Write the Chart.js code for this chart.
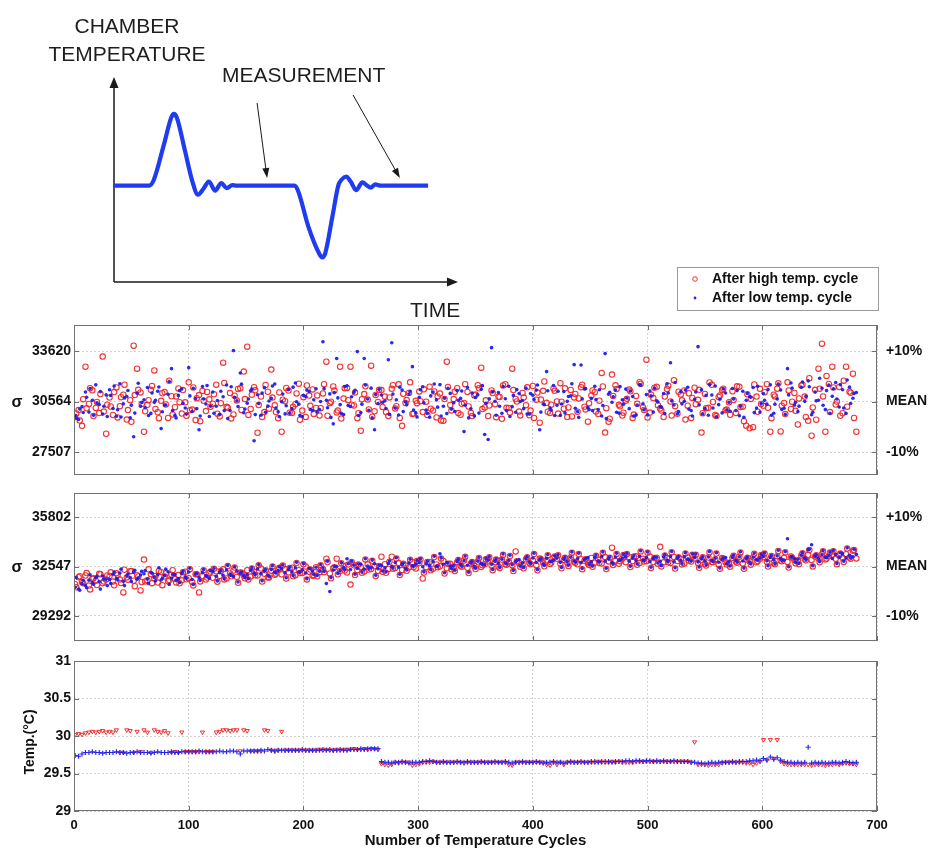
<!DOCTYPE html>
<html><head><meta charset="utf-8">
<script src="https://cdn.jsdelivr.net/npm/chart.js@4.4.1/dist/chart.umd.min.js"></script>
<style>
html,body{margin:0;padding:0;background:#fff;}
#wrap{position:relative;width:940px;height:856px;overflow:hidden;background:#fff;}
#wrap canvas{position:absolute;left:0;}
</style></head><body>
<div id="wrap">
<canvas id="schem" width="940" height="320" style="top:0px"></canvas>
<canvas id="p1" width="940" height="225" style="top:255px"></canvas>
<canvas id="p2" width="940" height="166" style="top:480px"></canvas>
<canvas id="p3" width="940" height="210" style="top:646px"></canvas>
</div>
<script>
// ---------------- DATA ----------------
// cycle numbers of sample set A and interleaved sample set B
const cycles = [1,4,7,10,13,16,19,22,25,28,31,34,37,40,43,46,49,52,55,58,61,64,67,70,73,76,79,82,85,88,91,94,97,100,103,106,109,112,115,118,121,124,127,130,133,136,139,142,145,148,151,154,157,160,163,166,169,172,175,178,181,184,187,190,193,196,199,202,205,208,211,214,217,220,223,226,229,232,235,238,241,244,247,250,253,256,259,262,265,268,271,274,277,280,283,286,289,292,295,298,301,304,307,310,313,316,319,322,325,328,331,334,337,340,343,346,349,352,355,358,361,364,367,370,373,376,379,382,385,388,391,394,397,400,403,406,409,412,415,418,421,424,427,430,433,436,439,442,445,448,451,454,457,460,463,466,469,472,475,478,481,484,487,490,493,496,499,502,505,508,511,514,517,520,523,526,529,532,535,538,541,544,547,550,553,556,559,562,565,568,571,574,577,580,583,586,589,592,595,598,601,604,607,610,613,616,619,622,625,628,631,634,637,640,643,646,649,652,655,658,661,664,667,670,673,676,679,682];
const cyclesB = [2,5,8,11,14,17,20,23,26,29,32,35,38,41,44,47,50,53,56,59,62,65,68,71,74,77,80,83,86,89,92,95,98,101,104,107,110,113,116,119,122,125,128,131,134,137,140,143,146,149,152,155,158,161,164,167,170,173,176,179,182,185,188,191,194,197,200,203,206,209,212,215,218,221,224,227,230,233,236,239,242,245,248,251,254,257,260,263,266,269,272,275,278,281,284,287,290,293,296,299,302,305,308,311,314,317,320,323,326,329,332,335,338,341,344,347,350,353,356,359,362,365,368,371,374,377,380,383,386,389,392,395,398,401,404,407,410,413,416,419,422,425,428,431,434,437,440,443,446,449,452,455,458,461,464,467,470,473,476,479,482,485,488,491,494,497,500,503,506,509,512,515,518,521,524,527,530,533,536,539,542,545,548,551,554,557,560,563,566,569,572,575,578,581,584,587,590,593,596,599,602,605,608,611,614,617,620,623,626,629,632,635,638,641,644,647,650,653,656,659,662,665,668,671,674,677,680];

const seriesNames = ['After high temp. cycle', 'After low temp. cycle'];

// Panel 1: sigma (first quantity)
const q1High = [
29640,30050,29100,32680,30420,31250,30180,29870,33290,28620,
30810,29760,31420,30290,30980,29480,30650,33950,32560,31120,
28740,30370,31280,32450,29920,30610,31140,29580,30890,30230,
31360,29840,30520,31730,30080,29450,30960,31210,29990,30700,
30440,31590,29670,32920,30250,31080,29790,30630,31370,32380,
33890,30120,31440,28680,30870,29930,31160,32500,30340,29560,
28740,30590,31230,29870,30410,31650,30020,29640,30930,31300,
30180,29720,31060,32980,30470,31480,29910,32680,30750,31390,
32680,30330,29560,28800,31020,30690,32740,29980,30540,31260,
30870,29690,31340,30150,31610,29100,30480,31090,29820,30610,
31180,29930,30560,31470,30020,29610,31050,29400,32980,30360,
30720,31380,29770,30480,31150,29880,30940,31560,32620,30210,
29690,31240,30410,30860,29520,31620,30180,32560,30730,29960,
31090,30350,29740,31510,30680,29290,31220,30490,29870,31360,
30570,31680,30140,29630,31270,30820,29950,31440,30260,29350,
30940,31130,29810,32300,28690,29350,32200,31550,30370,29720,
30620,31290,29580,30910,31740,30230,33100,29900,30780,31460,
30150,29640,31320,30570,31860,29830,30990,31240,30320,29580,
31410,30670,28690,31030,30190,31580,29760,30850,31270,30040,
30530,31190,29880,31470,30260,29110,28950,29020,30870,31340,
30310,31620,28740,30980,31350,28760,30480,31730,30120,31090,
29180,31540,30870,29400,28500,31280,32560,34070,28740,31630,
32680,30390,31450,29860,32680,31170,32250,28740];
const q1HighB = [
29850,29420,30710,30160,31380,29690,30540,31020,29960,30380,
30270,31140,29610,30830,31590,30050,29340,30960,31280,30420,
29980,30650,31510,30120,29560,31070,30390,31830,29790,30880,
30530,31260,29710,30040,31420,30770,29380,30610,31150,30260,
31010,29830,30470,31690,30190,29550,30920,31330,30060,30720,
29760,30980,31250,30360,29640,31570,30140,30810,29930,31120,
30680,31390,29890,30250,31060,29470,30830,31540,30310,29820,
30940,30170,31620,29710,30560,31230,30020,29540,31380,30650,
30380,31120,29860,30710,31490,30090,29650,30970,31280,30240,
29930,30820,31560,30290,29580,31040,30660,31730,29840,30470,
30590,31310,29760,30140,31180,30880,29420,30720,31450,30030,
31160,29870,30430,31620,30270,29690,30990,31370,30110,30640,
30330,31080,29620,30850,31540,30190,29900,31260,30570,29730,
30810,31430,30020,29580,31110,30690,31780,29950,30380,31220,
29840,30560,31370,30210,29670,31030,30760,31590,30090,30470,
31240,29960,30620,31480,30170,29530,30910,31320,30280,29890,
30740,31190,29780,30430,31650,30060,29610,30980,31410,30350,
30020,30870,31530,29720,30290,31160,30640,29480,31070,30790,
30410,31280,29860,30170,31720,30540,29690,30930,31350,30080,
29770,30660,31490,30240,29380,31010,30730,31600,29950,30420,
31130,30190,29560,30880,31670,30320,29810,31240,30560,30010,
30760,31590,29640,31980,30210,29470,31350,30880,32120,29930,
31420,30570,29710,31830,30260,31100,29580];
const q1Low = [
29720,29480,30260,31150,29930,30640,31580,30390,29810,30970,
31280,30150,29680,31640,30430,30870,29590,28440,31070,30290,
30680,31420,29850,30520,31190,28930,30360,31010,32560,29740,
30940,31330,30180,32620,29970,30750,28860,31480,30420,29660,
31150,30280,29790,30860,31570,30030,33650,30610,32300,29890,
30470,31220,28200,30980,29740,31410,30290,30760,31630,29950,
30560,29820,31290,30140,31690,30410,29660,30870,31180,30020,
31340,30090,34190,30650,31030,29220,33170,30380,29780,31520,
30270,31110,33590,29900,33170,30720,31380,28860,30450,30960,
30610,33100,34130,30180,29750,31270,30540,31020,32680,29880,
30830,31460,30050,29620,31150,30670,31590,30280,29840,31060,
30490,31230,30760,28750,31420,30130,29700,30980,31310,28570,
28270,33830,30590,31120,29860,30740,31490,30260,29920,31050,
30630,31380,29810,30950,31260,28860,30420,32380,30170,31540,
30340,29730,31170,30580,30910,32800,29960,32780,31330,30210,
30760,31490,30080,29690,33470,31010,30530,31260,29870,30680,
31320,30140,30870,29760,31580,30430,30990,31210,29930,30610,
30270,31050,31640,32920,30360,29820,31170,30590,31430,30020,
30710,33890,31280,30150,29740,30960,31510,30380,29880,31090,
30530,31360,30020,29710,31190,30640,30870,31420,30180,29930,
31050,30410,31580,29860,30730,31270,30160,32560,31690,30340,
29960,31430,30580,31820,29770,31140,30650,31370,30080,31560,
30890,31720,30240,31280,29850,31440,30770,31120];
const q1LowB = [
29580,30120,29910,30830,31360,29740,30490,31170,30280,29660,
30940,31510,30070,29630,30780,31240,30350,29870,31680,30510,
30190,29720,31090,30640,31450,29950,30360,31780,30020,29580,
31230,30460,29810,30910,31370,30140,29690,30720,31540,30280,
29860,30630,31190,30020,29540,31460,30830,30270,31620,30110,
30720,31330,29780,30450,31080,29920,30600,31510,30180,29650,
31020,30310,29870,31440,30560,29730,30940,31260,30090,30680,
29940,30570,31350,30190,29610,31110,30790,29850,31480,30330,
30860,31250,29720,30410,31570,30040,29580,30990,31310,30520,
30150,29790,31020,30680,31440,29960,30370,31190,30060,29640,
31280,30490,29850,30910,31630,30230,29690,30770,31370,30110,
29970,30640,31210,30350,29580,31090,30820,29870,31530,30460,
30730,31160,29740,30280,31480,30020,29660,30940,31290,30570,
30140,29810,31050,30690,31570,29930,30380,31220,30050,29720,
31190,30420,29880,30870,31640,30160,29610,30730,31350,30090,
30020,30690,31280,30330,29540,31130,30860,29920,31470,30410,
30780,31210,29690,30350,31560,30070,29760,30920,31380,30540,
30230,29840,31090,30610,31720,29970,30430,31260,30110,29690,
31150,30370,29820,30940,31590,30180,29650,30710,31340,30060,
29980,30720,31230,30290,29610,31060,30830,29900,31490,30440,
30650,31290,29740,30410,31620,30090,29790,30970,31380,30520,
30290,31750,30880,31460,29920,30610,31980,30340,31230,29860,
31340,30720,31590,30180,31870,30450,31060];

// Panel 2: sigma (second quantity)
const q2High = [
31380,31850,31520,31960,31290,31740,31610,32080,31450,31700,
31920,31560,32110,31690,30840,31830,32240,31610,31980,30970,
33010,31640,32050,31770,31490,32180,31890,31580,32010,31720,
31990,31640,32210,31780,31530,32050,30840,31920,31690,32130,
31810,32240,31930,32370,31760,32090,32290,31870,32150,31960,
32310,31890,32200,31960,32420,32070,31820,32280,32010,32350,
32040,32390,32160,32480,31980,32310,32120,32550,32210,31950,
32510,32180,32390,33070,32090,32440,33070,32260,32580,32150,
31360,32630,32310,32520,32220,32700,32390,32580,32270,33200,
32710,32390,33200,32460,32780,32330,32620,32490,32840,32420,
32780,31760,32510,32860,32410,32690,32570,32920,32440,32730,
32530,32840,32610,32950,32470,32760,32590,32880,32520,32700,
32950,32620,32830,32560,33010,32710,32890,32640,33550,32780,
32690,33030,32780,32950,32640,33080,32810,32970,32720,33110,
33060,32740,32990,32820,33150,32870,32700,33040,32930,32760,
33120,32810,33010,32760,33180,32890,33800,32930,32740,33090,
32840,33170,32920,33230,32780,33060,32900,33210,32850,33140,
33860,32830,33110,32790,33190,32920,33040,32760,33150,32880,
33090,32780,32980,32720,33150,32860,33040,32690,33110,32830,
32800,33130,32890,33200,32750,33020,32910,33170,32840,33060,
33180,32870,33090,32790,33240,32950,33130,32860,33210,32980,
32960,33290,33050,33330,32990,33210,33080,33360,33020,33250,
33340,33060,33290,33110,33370,33150,33600,33090];
const q2HighB = [
31180,31910,31450,32120,31040,31780,31330,32040,31560,31960,
32170,31310,32010,31460,32340,31670,32250,31250,31900,31530,
31570,32370,31450,31920,32250,31320,32090,31660,32310,31500,
31440,32170,31710,32380,31300,32040,31570,32300,31820,32220,
32410,31550,32250,31700,32580,31910,32490,31480,32140,31770,
31700,32430,31970,32640,31560,32300,31830,32560,32080,32480,
32620,31760,32460,31910,32790,32120,32700,31700,32350,31980,
31910,32640,32180,32850,31770,32510,32040,32770,32290,32690,
32850,31990,32690,32140,33020,32350,32930,31930,32580,32210,
32140,32870,32410,33080,32000,32740,32270,33000,32520,32920,
33010,32150,32850,32300,33180,32510,33090,32090,32740,32370,
32260,32990,32530,33200,32120,32860,32390,33120,32640,33040,
33170,32310,33010,32460,33340,32670,33250,32250,32900,32530,
32440,33170,32710,33380,32300,33040,32570,33300,32820,33220,
33300,32440,33140,32590,33470,32800,33380,32380,33030,32660,
32530,33260,32800,33470,32390,33130,32660,33390,32910,33310,
33380,32520,33220,32670,33550,32880,33460,32460,33110,32740,
32560,33290,32830,33500,32420,33160,32690,33420,32940,33340,
33330,32470,33170,32620,33500,32830,33410,32410,33060,32690,
32540,33270,32810,33480,32400,33140,32670,33400,32920,33320,
33410,32550,33250,32700,33580,32910,33490,32490,33140,32770,
32700,33430,32970,33640,32560,33300,32830,33560,33080,33480,
33570,32710,33410,32860,33740,33070,33650];
const q2Low = [
31180,31060,31420,31290,31650,31480,31820,31560,31930,31710,
31690,32040,31760,32120,31580,31940,31820,32180,31710,31990,
32070,31730,32160,31840,32010,31660,31950,32210,31780,32030,
31750,32100,31870,32190,31690,32040,31820,32150,31960,31780,
32230,31910,32150,31980,32320,32050,31890,32260,32110,31960,
32020,32310,32140,32390,32080,32260,31990,32350,32180,32290,
32400,32130,32350,32210,32470,32190,32330,32120,32440,32260,
32510,32240,32460,31430,30900,32320,32550,32290,32480,33070,
32360,32640,32430,32700,32380,32590,32480,32730,32410,32620,
32470,32750,32560,32820,32510,32690,32440,32780,32600,32720,
32800,32540,32730,32610,32880,32570,33400,32700,32820,32590,
32610,32880,32690,32940,32640,32810,32570,32900,32760,32680,
32970,32700,32910,32760,33040,32790,32950,32680,32880,33010,
32780,33060,32850,33120,32820,33000,32740,33090,32880,32970,
33110,32830,33040,32880,33170,32920,33080,32810,33010,33140,
32870,33150,32940,33210,32900,33060,32830,33180,32980,33090,
33190,32910,33110,32960,33230,33000,33140,32880,33080,33170,
32900,33180,32980,33220,32870,33110,32950,33200,33040,32920,
33140,32860,33060,32910,33180,32950,33100,32840,33030,33150,
32870,33160,32960,33200,32920,33080,32850,33170,33000,33110,
33220,32940,33150,33010,33260,33080,32980,34390,33190,33050,
33030,33300,33110,33670,33990,33240,33090,33330,33160,33280,
33080,33350,33170,33390,33120,33300,33200,33360];
const q2LowB = [
31820,30980,31640,31150,32010,31380,31900,31060,31720,31290,
31430,32190,31700,32380,31290,32060,31560,32300,31810,32230,
32290,31430,32110,31600,32470,31780,32380,31370,32020,31650,
31500,32230,31770,32440,31360,32100,31630,32360,31880,32280,
32460,31600,32300,31750,32630,31960,32540,31530,32190,31820,
31750,32480,32020,32690,31610,32350,31880,32610,32130,32530,
32670,31810,32510,31960,32840,32170,32750,31750,32400,32030,
31960,32690,32230,32900,31820,32560,32090,32820,32340,32740,
32900,32040,32740,32190,33070,32400,32980,31980,32630,32260,
32190,32920,32460,33130,32050,32790,32320,33050,32570,32970,
33060,32200,32900,32350,33230,32560,33140,32140,32790,32420,
32310,33040,32580,33250,32170,32910,32440,33170,32690,33090,
33220,32360,33060,32510,33390,32720,33300,32300,32950,32580,
32490,33220,32760,33430,32350,33090,32620,33350,32870,33270,
33350,32490,33190,32640,33520,32850,33430,32430,33080,32710,
32580,33310,32850,33520,32440,33180,32710,33440,32960,33360,
33430,32570,33270,32720,33600,32930,33510,32510,33160,32790,
32610,33340,32880,33550,32470,33210,32740,33470,32990,33390,
33380,32520,33220,32670,33550,32880,33460,32460,33110,32740,
32590,33320,32860,33530,32450,33190,32720,33450,32970,33370,
33460,32600,33300,32750,33630,32960,33540,32540,33190,32820,
32750,33480,33020,33690,32610,33350,32880,33610,33130,33530,
33620,32760,33460,32910,33790,33120,33700];

// Panel 3: temperature (°C)
const tHigh = [
30.02,30.03,30.02,30.04,30.05,30.06,30.05,30.06,30.07,30.05,
30.06,30.05,30.08,29.78,29.78,30.08,30.07,29.78,30.06,29.79,
30.08,30.05,29.78,30.08,30.06,30.05,30.07,30.04,29.78,29.79,
29.78,30.05,29.79,29.79,29.79,29.79,29.79,30.05,29.79,29.79,
29.79,30.05,30.06,30.08,30.08,30.07,30.08,30.08,29.80,30.08,
30.07,29.80,29.80,29.80,29.80,30.08,30.07,29.81,29.80,29.81,
30.06,29.81,29.81,29.81,29.81,29.81,29.81,29.81,29.81,29.81,
29.81,29.82,29.81,29.82,29.81,29.81,29.82,29.81,29.82,29.82,
29.82,29.83,29.82,29.82,29.83,29.82,29.83,29.83,29.82,29.63,
29.62,29.61,29.62,29.65,29.64,29.65,29.65,29.65,29.61,29.62,
29.63,29.65,29.65,29.65,29.66,29.65,29.65,29.65,29.65,29.65,
29.65,29.65,29.65,29.64,29.65,29.65,29.65,29.65,29.65,29.65,
29.65,29.65,29.65,29.65,29.65,29.65,29.62,29.61,29.65,29.65,
29.65,29.65,29.65,29.65,29.65,29.65,29.65,29.62,29.61,29.65,
29.62,29.65,29.62,29.65,29.65,29.65,29.65,29.65,29.65,29.65,
29.65,29.65,29.66,29.65,29.65,29.65,29.66,29.65,29.66,29.65,
29.65,29.65,29.65,29.66,29.66,29.66,29.66,29.66,29.66,29.66,
29.66,29.66,29.66,29.66,29.66,29.66,29.66,29.66,29.66,29.65,
29.92,29.62,29.62,29.62,29.61,29.62,29.62,29.62,29.64,29.65,
29.65,29.65,29.65,29.65,29.65,29.64,29.64,29.62,29.64,29.66,
29.95,29.68,29.95,29.70,29.95,29.66,29.63,29.62,29.62,29.62,
29.62,29.62,29.62,29.62,29.61,29.62,29.62,29.62,29.61,29.62,
29.62,29.63,29.62,29.63,29.64,29.63,29.63,29.62];
const tLow = [
29.74,29.73,29.76,29.78,29.78,29.79,29.78,29.78,29.77,29.78,
29.78,29.78,29.79,29.78,29.78,29.77,29.78,29.78,29.79,29.78,
29.78,29.78,29.77,29.78,29.79,29.78,29.78,29.78,29.79,29.78,
29.78,29.79,29.79,29.79,29.79,29.79,29.80,29.79,29.79,29.79,
29.79,29.79,29.80,29.79,29.79,29.80,29.80,29.79,29.76,29.80,
29.80,29.80,29.80,29.80,29.81,29.80,29.82,29.81,29.80,29.81,
29.81,29.81,29.81,29.81,29.81,29.81,29.82,29.81,29.81,29.81,
29.81,29.81,29.82,29.81,29.82,29.81,29.81,29.82,29.81,29.81,
29.82,29.82,29.82,29.83,29.82,29.83,29.83,29.83,29.83,29.66,
29.65,29.65,29.64,29.65,29.65,29.66,29.65,29.64,29.65,29.65,
29.65,29.66,29.66,29.67,29.66,29.65,29.65,29.66,29.65,29.65,
29.65,29.66,29.65,29.65,29.66,29.65,29.65,29.65,29.66,29.65,
29.65,29.65,29.66,29.65,29.65,29.66,29.65,29.64,29.65,29.65,
29.66,29.65,29.65,29.65,29.66,29.65,29.64,29.65,29.65,29.66,
29.65,29.65,29.64,29.65,29.66,29.65,29.65,29.66,29.65,29.65,
29.66,29.66,29.65,29.66,29.66,29.66,29.65,29.66,29.66,29.66,
29.67,29.67,29.66,29.67,29.67,29.66,29.67,29.67,29.66,29.67,
29.66,29.67,29.66,29.66,29.67,29.66,29.66,29.66,29.66,29.65,
29.65,29.64,29.64,29.63,29.64,29.65,29.64,29.65,29.65,29.65,
29.65,29.66,29.65,29.66,29.66,29.66,29.67,29.67,29.68,29.67,
29.70,29.68,29.72,29.69,29.71,29.68,29.66,29.65,29.65,29.64,
29.65,29.64,29.65,29.85,29.64,29.65,29.64,29.65,29.64,29.64,
29.65,29.65,29.64,29.65,29.66,29.65,29.64,29.65];

// Tick values / labels
const xTickValues = [0,100,200,300,400,500,600,700];
const xTickLabels = ['0','100','200','300','400','500','600','700'];
const q1TickValues = [27507,30564,33620];
const q1TickLabels = ['27507','30564','33620'];
const q2TickValues = [29292,32547,35802];
const q2TickLabels = ['29292','32547','35802'];
const pctLabels = ['-10%','MEAN','+10%'];
const tTickValues = [29,29.5,30,30.5,31];
const tTickLabels = ['29','29.5','30','30.5','31'];
const xRange = [0,700];
const q1Range = [26130,35200];
const q2Range = [27630,37420];
const tRange = [29,31];

// Schematic of the chamber temperature profile (arbitrary units)
const schemTime = [0,10.2,11.5,14.5,16.6,17.4,18.3,20.5,22.8,24.4,26,27.6,29.4,31.2,32.8,34.4,35.5,52.5,53.5,56.5,59.6,60.5,61.4,63.5,65.2,66.2,67.5,68.8,70.4,72.2,73.6,74.6,76,77.3,91.3];
const schemTemp = [0,0,2.5,20,33,35,33,18,2,-4.4,-1.5,2,-2.4,1.2,-1.2,0.3,0,0,-2.5,-20,-33,-35,-33,-15,0,3,4.4,2,-2.2,1.6,0,-1,0.6,0,0];
const schemRange = {tMin:0,tMax:100,vMin:-47,vMax:53};
const measArrowTail = [[41.6,40.3],[69.5,44.2]];
const measArrowHead = [[44.5,3.7],[83.1,3.7]];

// ---------------- RENDERING ----------------
const FONT = '"Liberation Sans", Arial, Helvetica, sans-serif';
Chart.defaults.font.family = FONT;
const RED = 'rgba(240,40,40,0.95)';
const BLUE = 'rgba(30,30,240,0.95)';

function arrowHead(ctx, x0, y0, x1, y1, len, w) {
  const ang = Math.atan2(y1 - y0, x1 - x0);
  const bx = x1 - len * Math.cos(ang), by = y1 - len * Math.sin(ang);
  ctx.beginPath();
  ctx.moveTo(x1, y1);
  ctx.lineTo(bx + (w / 2) * Math.sin(ang), by - (w / 2) * Math.cos(ang));
  ctx.lineTo(bx - (w / 2) * Math.sin(ang), by + (w / 2) * Math.cos(ang));
  ctx.closePath();
  ctx.fill();
}

const schemPlugin = {
  id: 'schemDecor',
  beforeDatasetsDraw(chart) {
    const {ctx, chartArea: a} = chart;
    ctx.save();
    ctx.strokeStyle = '#1a1a1a'; ctx.fillStyle = '#1a1a1a'; ctx.lineWidth = 1.5;
    ctx.beginPath();
    ctx.moveTo(a.left, a.bottom); ctx.lineTo(a.left, a.top + 8);
    ctx.moveTo(a.left, a.bottom); ctx.lineTo(a.right - 8, a.bottom);
    ctx.stroke();
    arrowHead(ctx, a.left, a.bottom, a.left, a.top, 11, 9);
    arrowHead(ctx, a.left, a.bottom, a.right, a.bottom, 11, 9);
    ctx.restore();
  },
  afterDatasetsDraw(chart) {
    const {ctx, scales: {x, y}} = chart;
    ctx.save();
    ctx.strokeStyle = '#1a1a1a'; ctx.fillStyle = '#1a1a1a'; ctx.lineWidth = 1;
    for (let k = 0; k < measArrowTail.length; k++) {
      const x0 = x.getPixelForValue(measArrowTail[k][0]), y0 = y.getPixelForValue(measArrowTail[k][1]);
      const x1 = x.getPixelForValue(measArrowHead[k][0]), y1 = y.getPixelForValue(measArrowHead[k][1]);
      const ang = Math.atan2(y1 - y0, x1 - x0);
      ctx.beginPath(); ctx.moveTo(x0, y0); ctx.lineTo(x1 - 6 * Math.cos(ang), y1 - 6 * Math.sin(ang)); ctx.stroke();
      arrowHead(ctx, x0, y0, x1, y1, 10, 7);
    }
    ctx.fillStyle = '#1e1e1e';
    ctx.font = '21px ' + FONT;
    ctx.textBaseline = 'alphabetic';
    ctx.textAlign = 'center';
    ctx.fillText('CHAMBER', 127, 33);
    ctx.fillText('TEMPERATURE', 127, 61);
    ctx.textAlign = 'left';
    ctx.fillText('MEASUREMENT', 222, 82);
    ctx.fillText('TIME', 410, 317);
    ctx.restore();
  }
};

new Chart(document.getElementById('schem'), {
  type: 'line',
  data: {datasets: [{
    data: schemTime.map((t, i) => ({x: t, y: schemTemp[i]})),
    borderColor: '#1f3cf0', borderWidth: 4.2, pointRadius: 0,
    cubicInterpolationMode: 'monotone', fill: false
  }]},
  options: {
    responsive: false, animation: false, devicePixelRatio: 1, events: [],
    layout: {padding: {left: 114, right: 482, top: 77, bottom: 38}},
    plugins: {legend: {display: false}, tooltip: {enabled: false}},
    scales: {
      x: {type: 'linear', display: false, min: schemRange.tMin, max: schemRange.tMax},
      y: {type: 'linear', display: false, min: schemRange.vMin, max: schemRange.vMax}
    },
    clip: false
  },
  plugins: [schemPlugin]
});

function makeFrame(cfg) {
  return {
    id: 'panelDecor',
    afterDraw(chart) {
      const {ctx, chartArea: a, scales} = chart;
      ctx.save();
      ctx.strokeStyle = '#707070'; ctx.lineWidth = 1;
      ctx.strokeRect(Math.round(a.left) + 0.5, Math.round(a.top) + 0.5, Math.round(a.right - a.left) - 1, Math.round(a.bottom - a.top) - 1);
      const L = 5;
      ctx.beginPath();
      scales.y.ticks.forEach(t => {
        const py = Math.round(scales.y.getPixelForValue(t.value)) + 0.5;
        ctx.moveTo(a.left, py); ctx.lineTo(a.left + L, py);
        ctx.moveTo(a.right, py); ctx.lineTo(a.right - L, py);
      });
      scales.x.ticks.forEach(t => {
        const px = Math.round(scales.x.getPixelForValue(t.value)) + 0.5;
        ctx.moveTo(px, a.bottom); ctx.lineTo(px, a.bottom - L);
        ctx.moveTo(px, a.top); ctx.lineTo(px, a.top + L);
      });
      ctx.stroke();
      ctx.fillStyle = '#111';
      if (cfg.sigma) {
        const midVal = scales.y.ticks[1].value;
        ctx.font = 'bold 16px ' + FONT;
        ctx.textAlign = 'center'; ctx.textBaseline = 'middle';
        ctx.fillText('σ', 17, scales.y.getPixelForValue(midVal) + 1);
      }
      if (cfg.yTitle) {
        ctx.font = 'bold 14px ' + FONT;
        ctx.translate(30, cfg.yTitleY);
        ctx.rotate(-Math.PI / 2);
        ctx.textAlign = 'center'; ctx.textBaseline = 'middle';
        ctx.fillText(cfg.yTitle, 0, 0);
        ctx.setTransform(1, 0, 0, 1, 0, 0);
      }
      if (cfg.legend) {
        const bx = 677, by = 12, bw = 201, bh = 43;
        ctx.fillStyle = '#fff';
        ctx.fillRect(bx, by, bw, bh);
        ctx.strokeStyle = '#9a9a9a';
        ctx.strokeRect(bx + 0.5, by + 0.5, bw, bh);
        const rows = [by + 12, by + 31];
        ctx.lineWidth = 1;
        ctx.strokeStyle = RED;
        ctx.beginPath(); ctx.arc(695, rows[0], 2.3, 0, Math.PI * 2); ctx.stroke();
        ctx.fillStyle = BLUE;
        ctx.beginPath(); ctx.arc(695, rows[1], 1.4, 0, Math.PI * 2); ctx.fill();
        ctx.fillStyle = '#111';
        ctx.font = 'bold 14px ' + FONT;
        ctx.textAlign = 'left'; ctx.textBaseline = 'middle';
        ctx.fillText(seriesNames[0], 712, rows[0]);
        ctx.fillText(seriesNames[1], 712, rows[1]);
      }
      ctx.restore();
    }
  };
}

const tickFont = {family: FONT, size: 14, weight: 'bold'};
function noPadV(s) { s.paddingTop = 0; s.paddingBottom = 0; }

function makePanel(id, cfg) {
  const scales = {
    x: {
      type: 'linear', position: 'bottom', min: xRange[0], max: xRange[1],
      afterBuildTicks: s => { s.ticks = xTickValues.map(v => ({value: v})); },
      afterFit: s => { s.height = cfg.xAxisH; s.paddingLeft = 0; s.paddingRight = 0; },
      grid: {display: true, color: '#d2d2d2', drawTicks: false},
      border: {display: false, dash: [2, 2]},
      ticks: {display: cfg.showX, padding: 7, color: '#111', autoSkip: false, maxRotation: 0,
              font: {family: FONT, size: 13, weight: 'bold'}, callback: (v, i) => xTickLabels[i]},
      title: {display: cfg.showX, text: 'Number of Temperature Cycles', color: '#111',
              padding: {top: 0, bottom: 6}, font: {family: FONT, size: 15, weight: 'bold'}}
    },
    y: {
      type: 'linear', position: 'left', min: cfg.range[0], max: cfg.range[1],
      afterBuildTicks: s => { s.ticks = cfg.tickValues.map(v => ({value: v})); },
      afterFit: s => { s.width = 74; noPadV(s); },
      grid: {display: true, color: '#d2d2d2', drawTicks: false},
      border: {display: false, dash: [2, 2]},
      ticks: {padding: 3, color: '#111', font: tickFont, autoSkip: false, callback: (v, i) => cfg.tickLabels[i]}
    }
  };
  if (cfg.rightLabels) {
    scales.y2 = {
      type: 'linear', position: 'right', min: cfg.range[0], max: cfg.range[1],
      afterBuildTicks: s => { s.ticks = cfg.tickValues.map(v => ({value: v})); },
      afterFit: s => { s.width = 63; noPadV(s); },
      grid: {display: false, drawTicks: false},
      border: {display: false},
      ticks: {padding: 9, color: '#111', font: tickFont, autoSkip: false, callback: (v, i) => cfg.rightLabels[i]}
    };
  }
  return new Chart(document.getElementById(id), {
    type: 'scatter',
    data: {datasets: cfg.datasets},
    options: {
      responsive: false, animation: false, devicePixelRatio: 1, events: [],
      layout: {padding: {left: 0, right: cfg.rightLabels ? 0 : 63, top: cfg.padTop, bottom: 0}},
      plugins: {legend: {display: false}, tooltip: {enabled: false}},
      scales
    },
    plugins: [makeFrame(cfg)]
  });
}

function pts(cyc, arr) { return cyc.map((c, i) => ({x: c, y: arr[i]})); }

function qDatasets(highA, highB, lowA, lowB) {
  return [
    {label: seriesNames[0], data: pts(cycles, highA).concat(pts(cyclesB, highB)), pointStyle: 'circle', pointRadius: 2.7,
     borderColor: RED, borderWidth: 1.1, backgroundColor: 'rgba(0,0,0,0)', order: 2},
    {label: seriesNames[1], data: pts(cycles, lowA).concat(pts(cyclesB, lowB)), pointStyle: 'circle', pointRadius: 1.8,
     borderWidth: 0, backgroundColor: BLUE, borderColor: BLUE, order: 1}
  ];
}

makePanel('p1', {
  datasets: qDatasets(q1High, q1HighB, q1Low, q1LowB), range: q1Range, tickValues: q1TickValues, tickLabels: q1TickLabels,
  rightLabels: pctLabels, showX: false, xAxisH: 3, padTop: 70, sigma: true, legend: true
});
makePanel('p2', {
  datasets: qDatasets(q2High, q2HighB, q2Low, q2LowB), range: q2Range, tickValues: q2TickValues, tickLabels: q2TickLabels,
  rightLabels: pctLabels, showX: false, xAxisH: 4, padTop: 13, sigma: true
});
makePanel('p3', {
  datasets: [
    {label: seriesNames[0], data: pts(cycles, tHigh), pointStyle: 'triangle', rotation: 180, pointRadius: 2.4,
     borderColor: RED, borderWidth: 1, backgroundColor: 'rgba(0,0,0,0)', order: 2},
    {label: seriesNames[1], data: pts(cycles, tLow), pointStyle: 'cross', pointRadius: 2.6,
     borderColor: BLUE, borderWidth: 1.2, backgroundColor: BLUE, order: 1}
  ],
  range: tRange, tickValues: tTickValues, tickLabels: tTickLabels,
  rightLabels: null, showX: true, xAxisH: 45, padTop: 15, yTitle: 'Temp.(°C)', yTitleY: 96
});
</script>
</body></html>
